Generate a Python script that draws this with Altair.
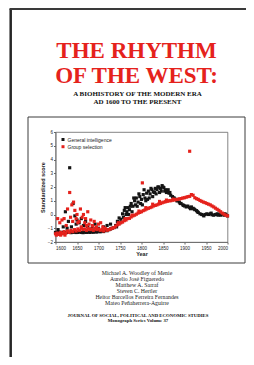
import altair as alt
import pandas as pd

# ---------------- text content ----------------
title_lines = ["THE RHYTHM", "OF THE WEST:"]
subtitle_lines = ["A BIOHISTORY OF THE MODERN ERA", "AD 1600 TO THE PRESENT"]
authors = [
    "Michael A. Woodley of Menie",
    "Aurelio José Figueredo",
    "Matthew A. Sarraf",
    "Steven C. Hertler",
    "Heitor Barcellos Ferreira Fernandes",
    "Mateo Peñaherrera-Aguirre",
]
journal_lines = ["JOURNAL OF  SOCIAL, POLITICAL AND ECONOMIC STUDIES", "Monograph Series Volume 37"]

series_names = ["General intelligence", "Group selection"]
series_colors = ["#141414", "#e5221c"]
x_ticks = [1600, 1650, 1700, 1750, 1800, 1850, 1900, 1950, 2000]
y_ticks = [-2, -1, 0, 1, 2, 3, 4, 5, 6]

# ---------------- data ----------------
years_grid = list(range(1600, 2001, 4))

gi_values = [
    -1.30, -1.32, -1.28, -1.30, -1.33, -1.29, -1.31, -1.30, -1.28, -1.32,
    -1.30, -1.29, -1.31, -1.30, -1.27, -1.30, -1.32, -1.29, -1.30, -1.28,
    -1.30, -1.27, -1.29, -1.25, -1.28, -1.22, -1.26, -1.20, -1.24, -1.15,
    -1.18, -1.10, -1.05, -1.00,
    -0.95, -0.80, -0.50, -0.25, -0.35, 0.05, 0.30, 0.00, 0.50, 0.35,
    0.80, 0.60, 1.00, 1.20, 0.90, 1.30,
    1.10, 1.45, 1.20, 1.55, 1.70, 1.50, 1.80, 1.65, 1.90, 1.80,
    2.00, 1.90, 2.10, 1.95, 1.80, 1.65, 1.55, 1.40, 1.30, 1.20,
    1.10, 1.00, 0.90, 0.80, 0.70,
    0.62, 0.55, 0.60, 0.50, 0.55, 0.45, 0.35, 0.28, 0.15, 0.05,
    0.00, -0.05, 0.00, 0.05, 0.00, 0.05, -0.02, -0.05, 0.00, 0.05,
    0.00, -0.05, 0.02, -0.05, 0.00, -0.10,
]

gs_values = [
    -1.40, -1.35, -1.45, -1.30, -1.38, -1.25, -1.35, -1.20, -1.30, -1.15,
    -1.25, -1.10, -1.20, -1.05, -1.15, -1.00, -1.10, -1.05, -1.15, -1.00,
    -1.10, -1.05, -1.15, -1.00, -1.10, -1.05, -1.15, -1.10, -1.20, -1.05,
    -1.15,
    -1.10, -1.05, -1.00, -0.95, -0.85, -0.75, -0.70, -0.60, -0.55, -0.45,
    -0.40, -0.30, -0.28, -0.18, -0.10, -0.05, 0.02, 0.10, 0.15,
    0.20, 0.28, 0.33, 0.40, 0.45, 0.50, 0.55, 0.62, 0.66, 0.70,
    0.76, 0.80, 0.85, 0.90, 0.93, 0.96, 1.00, 1.00, 1.04, 1.06,
    1.08, 1.10, 1.14, 1.16, 1.20,
    1.22, 1.26, 1.30, 1.32, 1.45, 1.40, 1.22, 1.15, 1.10, 1.02,
    0.96, 0.90, 0.86, 0.80, 0.75, 0.70, 0.62, 0.55, 0.46, 0.38,
    0.30, 0.20, 0.10, 0.02, -0.05, -0.10,
]

gi_extra_years = [1606, 1618, 1623, 1627, 1630, 1633, 1637, 1641, 1645, 1648,
                  1650, 1655, 1660, 1665, 1670, 1675, 1685, 1692, 1700, 1712,
                  1720, 1728,
                  1742, 1750, 1758, 1762, 1766, 1770, 1774, 1778, 1782, 1786,
                  1790, 1794, 1798, 1802, 1806, 1810, 1814, 1818, 1822, 1826,
                  1830, 1834, 1838, 1842, 1846, 1850, 1854, 1858, 1862, 1866,
                  1874, 1882, 1890, 1898, 1906, 1914, 1922, 1930, 1945, 1962, 1978, 1994]
gi_extra_values = [-1.1, -0.9, 0.2, -1.0, -0.5, 3.4, -0.9, 0.8, -0.1, -0.7,
                   -0.4, -0.6, -0.3, -0.8, -0.5, -0.9, -1.0, -0.7, -1.0, -0.9,
                   -0.8, -0.7,
                   -0.9, -0.6, -0.2, 0.5, 0.2, 0.0, 0.6, 0.2, 1.2, 0.7,
                   0.6, 1.5, 0.8, 0.7, 1.8, 1.0, 1.1, 1.2, 1.9, 1.3,
                   1.6, 1.5, 2.0, 1.6, 1.7, 2.0, 1.7, 1.6, 1.8, 1.6,
                   1.2, 1.0, 0.8, 0.66, 0.6, 0.42, 0.4, 0.2, -0.1, 0.1, -0.05, 0.05]

gs_extra_years = [1602, 1605, 1608, 1610, 1612, 1615, 1617, 1620, 1622, 1625,
                  1628, 1633, 1635, 1638, 1640, 1642, 1645, 1648, 1650, 1652,
                  1655, 1658, 1660, 1662, 1665, 1668, 1670, 1672, 1675, 1678,
                  1682, 1686, 1690, 1695, 1700, 1705, 1710, 1715, 1802, 1912,
                  1746, 1762, 1778, 1794, 1810, 1826, 1842, 1858, 1874]
gs_extra_values = [-1.5, -0.3, -1.4, -0.6, -1.5, -0.4, -1.4, -0.3, -1.5, -0.8,
                   0.4, 1.6, -0.2, 0.7, -0.5, 0.9, 0.3, -0.3, 0.0, -0.6,
                   -0.5, 0.4, -0.9, -0.2, 0.0, -0.6, -0.3, -0.8, 0.2, -0.7,
                   -0.4, -0.8, -0.5, -0.9, -0.7, -0.6, -0.9, -1.0, 2.3, 4.6,
                   -0.6, -0.3, -0.05, 0.25, 0.5, 0.75, 0.95, 1.05, 1.12]

rows = []
for y, v in zip(years_grid, gi_values):
    rows.append({"year": y, "score": v, "series": series_names[0]})
for y, v in zip(gi_extra_years, gi_extra_values):
    rows.append({"year": y, "score": v, "series": series_names[0]})
for y, v in zip(years_grid, gs_values):
    rows.append({"year": y, "score": v, "series": series_names[1]})
for y, v in zip(gs_extra_years, gs_extra_values):
    rows.append({"year": y, "score": v, "series": series_names[1]})
df = pd.DataFrame(rows)
df["order"] = range(len(df))

one = pd.DataFrame({"k": [0]})

SERIF = "Liberation Serif"
SANS = "Liberation Sans"

# ---------------- decorations ----------------
left_border = alt.Chart(one).mark_rule(color="#262626", strokeWidth=2.5).encode(
    x=alt.value(-44.8), y=alt.value(-123), y2=alt.value(226))
top_border = alt.Chart(one).mark_rule(color="#3a3a3a", strokeWidth=2).encode(
    x=alt.value(-46), x2=alt.value(191), y=alt.value(-123))
frame = alt.Chart(one).mark_rect(fillOpacity=0, stroke="#3c3c3c", strokeWidth=1).encode(
    x=alt.value(-27.5), x2=alt.value(189.5), y=alt.value(-15), y2=alt.value(131))

title_t = alt.Chart(pd.DataFrame({"t": ["\n".join(title_lines)]})).mark_text(
    font=SERIF, fontWeight="bold", fontSize=23, color="#e5221c", align="center",
    baseline="alphabetic", lineBreak="\n", lineHeight=24.4).encode(
    text="t:N", x=alt.value(81), y=alt.value(-73.7))

sub_t = alt.Chart(pd.DataFrame({"t": ["\n".join(subtitle_lines)]})).mark_text(
    font=SERIF, fontWeight="bold", fontSize=7, color="#111111", align="center",
    baseline="alphabetic", lineBreak="\n", lineHeight=8.3).encode(
    text="t:N", x=alt.value(82), y=alt.value(-36.3))

auth_t = alt.Chart(pd.DataFrame({"t": ["\n".join(authors)]})).mark_text(
    font=SERIF, fontSize=5.8, color="#222222", align="center",
    baseline="alphabetic", lineBreak="\n", lineHeight=5.9).encode(
    text="t:N", x=alt.value(81.5), y=alt.value(143))

journal_t = alt.Chart(pd.DataFrame({"t": ["\n".join(journal_lines)]})).mark_text(
    font=SERIF, fontWeight="bold", fontSize=4.8, color="#111111", align="center",
    baseline="alphabetic", lineBreak="\n", lineHeight=5.2).encode(
    text="t:N", x=alt.value(82.5), y=alt.value(184.5))

# ---------------- scatter ----------------
scatter = alt.Chart(df).mark_point(shape="square", filled=True, size=10, opacity=1).encode(
    x=alt.X("year:Q", scale=alt.Scale(domain=[1600, 2000], nice=False),
            axis=alt.Axis(values=x_ticks, title="Year", format="d")),
    y=alt.Y("score:Q", scale=alt.Scale(domain=[-2, 6], nice=False),
            axis=alt.Axis(values=y_ticks, title="Standardized score")),
    color=alt.Color("series:N", scale=alt.Scale(domain=series_names, range=series_colors),
                    legend=alt.Legend(title=None, orient="none", legendX=5, legendY=5,
                                      padding=0, rowPadding=1.2, labelFontSize=5,
                                      labelFont=SANS, symbolType="square", symbolSize=9,
                                      labelOffset=2, labelColor="#222")),
    order="order:Q",
)

chart = alt.layer(left_border, top_border, frame, title_t, sub_t, auth_t, journal_t, scatter).properties(
    width=172, height=110,
    autosize=alt.AutoSizeParams(type="none"),
    padding={"left": 47.5, "top": 124, "right": 18.5, "bottom": 115},
    background="white",
).configure_view(stroke="#666666", strokeWidth=0.8).configure_axis(
    grid=False, labelFont=SANS, labelFontSize=4.5, labelColor="#222",
    titleFont=SANS, titleFontSize=5.5, titleFontWeight="bold", titleColor="#222",
    domainColor="#666666", domainWidth=0.8, tickColor="#666666", tickSize=2,
    labelPadding=1, titlePadding=2,
)

chart.save("out.html", embed_options={"renderer": "svg", "actions": False})
